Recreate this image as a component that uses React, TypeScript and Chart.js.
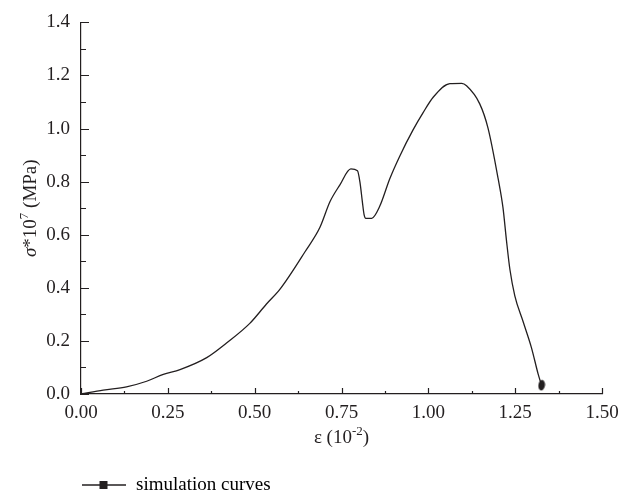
import React, { useEffect, useRef } from "react";
import { Chart, registerables } from "chart.js";

Chart.register(...registerables);

// ---- data ----
const strainValues = [
  0, 0.064, 0.131, 0.189, 0.237, 0.285, 0.362, 0.419, 0.486, 0.534, 0.573,
  0.645, 0.688, 0.717, 0.745, 0.777, 0.796, 0.803, 0.81, 0.815, 0.82, 0.837,
  0.86, 0.889, 0.918, 0.956, 0.985, 1.014, 1.062, 1.096, 1.11, 1.148, 1.172,
  1.201, 1.215, 1.225, 1.235, 1.249, 1.273, 1.297, 1.316, 1.326,
];
const stressValues = [
  0, 0.015, 0.027, 0.048, 0.074, 0.092, 0.137, 0.192, 0.266, 0.339, 0.395,
  0.536, 0.628, 0.725, 0.787, 0.848, 0.841, 0.799, 0.725, 0.676, 0.662, 0.662,
  0.707, 0.811, 0.897, 0.995, 1.06, 1.118, 1.169, 1.17, 1.161, 1.093, 1.001,
  0.811, 0.701, 0.578, 0.468, 0.37, 0.272, 0.174, 0.076, 0.033,
];
const xTickValues = [0, 0.25, 0.5, 0.75, 1.0, 1.25, 1.5];
const yTickValues = [0, 0.2, 0.4, 0.6, 0.8, 1.0, 1.2, 1.4];
const seriesLabel = "simulation curves";
const xTitleParts = [
  { text: "ε", italic: false, sup: false },
  { text: " (10", italic: false, sup: false },
  { text: "-2", italic: false, sup: true },
  { text: ")", italic: false, sup: false },
];
const yTitleParts = [
  { text: "σ", italic: true, sup: false },
  { text: "*10", italic: false, sup: false },
  { text: "7", italic: false, sup: true },
  { text: " (MPa)", italic: false, sup: false },
];

const FAMILY = "'Liberation Serif', 'Times New Roman', serif";
const INK = "#231f20";
const FS = 19;

function drawParts(ctx: CanvasRenderingContext2D, parts: any[], cx: number, cy: number) {
  const fontFor = (p: any) =>
    `${p.italic ? "italic " : ""}${p.sup ? Math.round(FS * 0.68) : FS}px ${FAMILY}`;
  let total = 0;
  const widths = parts.map((p) => {
    ctx.font = fontFor(p);
    const w = ctx.measureText(p.text).width;
    total += w;
    return w;
  });
  let x = cx - total / 2;
  ctx.textBaseline = "middle";
  ctx.textAlign = "left";
  ctx.fillStyle = INK;
  parts.forEach((p, i) => {
    ctx.font = fontFor(p);
    ctx.fillText(p.text, x, p.sup ? cy - FS * 0.35 : cy);
    x += widths[i];
  });
}

const innerTicksAndTitles = {
  id: "innerTicksAndTitles",
  afterLayout(chart: any) {
    if (chart.legend) chart.legend.left = chart.chartArea.left - 11;
  },
  afterDraw(chart: any) {
    const { ctx, chartArea } = chart;
    const xs = chart.scales.x;
    const ys = chart.scales.y;
    ctx.save();
    ctx.strokeStyle = INK;
    ctx.lineWidth = 1.2;
    ctx.beginPath();
    xTickValues.forEach((v, i) => {
      const px = Math.round(xs.getPixelForValue(v)) + 0.5;
      ctx.moveTo(px, chartArea.bottom);
      ctx.lineTo(px, chartArea.bottom - 6);
      if (i < xTickValues.length - 1) {
        const m = Math.round(xs.getPixelForValue((v + xTickValues[i + 1]) / 2)) + 0.5;
        ctx.moveTo(m, chartArea.bottom);
        ctx.lineTo(m, chartArea.bottom - 3);
      }
    });
    yTickValues.forEach((v, i) => {
      const py = Math.round(ys.getPixelForValue(v)) + 0.5;
      ctx.moveTo(chartArea.left, py);
      ctx.lineTo(chartArea.left + 8, py);
      if (i < yTickValues.length - 1) {
        const m = Math.round(ys.getPixelForValue((v + yTickValues[i + 1]) / 2)) + 0.5;
        ctx.moveTo(chartArea.left, m);
        ctx.lineTo(chartArea.left + 5, m);
      }
    });
    ctx.stroke();

    const midX = (chartArea.left + chartArea.right) / 2;
    drawParts(ctx, xTitleParts, midX, chartArea.bottom + 44);
    ctx.translate(chartArea.left - 50, (chartArea.top + chartArea.bottom) / 2);
    ctx.rotate(-Math.PI / 2);
    drawParts(ctx, yTitleParts, 0, 0);
    ctx.restore();
  },
};

function makeLegendGlyph(): HTMLCanvasElement {
  const c = document.createElement("canvas");
  c.width = 44;
  c.height = 10;
  const g = c.getContext("2d")!;
  g.strokeStyle = INK;
  g.lineWidth = 1.4;
  g.beginPath();
  g.moveTo(0, 5);
  g.lineTo(44, 5);
  g.stroke();
  g.fillStyle = INK;
  g.fillRect(18, 1, 8, 8);
  return c;
}

function makeEndBlob(): HTMLCanvasElement {
  const c = document.createElement("canvas");
  c.width = 8;
  c.height = 12;
  const g = c.getContext("2d")!;
  g.fillStyle = INK;
  g.beginPath();
  g.ellipse(4, 6, 3.3, 5.2, 0.15, 0, Math.PI * 2);
  g.fill();
  return c;
}

export default function App() {
  const ref = useRef<HTMLCanvasElement | null>(null);

  useEffect(() => {
    document.body.style.margin = "0";
    const canvas = ref.current;
    if (!canvas) return;
    const glyph = makeLegendGlyph();
    const blob = makeEndBlob();
    const points = strainValues.map((x, i) => ({ x, y: stressValues[i] }));
    const last = points.length - 1;
    const radii = points.map((_, i) => (i === last ? 5 : 0));
    const styles = points.map((_, i) => (i === last ? blob : "circle"));

    const chart = new Chart(canvas, {
      type: "line",
      data: {
        datasets: [
          {
            label: seriesLabel,
            data: points,
            borderColor: INK,
            backgroundColor: INK,
            borderWidth: 1.3,
            pointRadius: radii,
            pointStyle: styles as any,
            pointBackgroundColor: INK,
            pointBorderColor: INK,
            pointHoverRadius: 0,
            cubicInterpolationMode: "monotone",
            fill: false,
          },
        ],
      },
      options: {
        animation: false,
        responsive: false,
        maintainAspectRatio: false,
        events: [],
        layout: { padding: { left: 0, right: 33, top: 13, bottom: 0 } },
        plugins: {
          tooltip: { enabled: false },
          title: { display: false },
          legend: {
            display: true,
            position: "bottom",
            align: "start",
            maxHeight: 33,
            labels: {
              usePointStyle: true,
              pointStyleWidth: 46,
              padding: 10.5,
              color: INK,
              font: { family: FAMILY, size: FS },
              generateLabels: () => [
                {
                  text: seriesLabel,
                  pointStyle: glyph as any,
                  fillStyle: INK,
                  strokeStyle: INK,
                  lineWidth: 0,
                  hidden: false,
                  datasetIndex: 0,
                } as any,
              ],
            },
          },
        },
        scales: {
          x: {
            type: "linear",
            min: 0,
            max: 1.5,
            afterBuildTicks: (s: any) => {
              s.ticks = xTickValues.map((v) => ({ value: v }));
            },
            afterFit: (s: any) => {
              s.height = 71;
            },
            grid: { drawOnChartArea: false, drawTicks: false },
            border: { display: true, color: INK, width: 1.2 },
            ticks: {
              autoSkip: false,
              maxRotation: 0,
              padding: 8,
              color: INK,
              font: { family: FAMILY, size: FS },
              callback: (v: any) => Number(v).toFixed(2),
            },
            title: { display: false },
          },
          y: {
            type: "linear",
            min: 0,
            max: 1.4,
            afterBuildTicks: (s: any) => {
              s.ticks = yTickValues.map((v) => ({ value: v }));
            },
            afterFit: (s: any) => {
              s.width = 81;
            },
            grid: { drawOnChartArea: false, drawTicks: false },
            border: { display: true, color: INK, width: 1.2 },
            ticks: {
              autoSkip: false,
              padding: 11,
              color: INK,
              font: { family: FAMILY, size: FS },
              callback: (v: any) => Number(v).toFixed(1),
            },
            title: { display: false },
          },
        },
      },
      plugins: [innerTicksAndTitles],
    });
    return () => chart.destroy();
  }, []);

  return (
    <div style={{ width: 635, height: 498, background: "#fff" }}>
      <canvas ref={ref} width={635} height={498} style={{ display: "block" }} />
    </div>
  );
}
